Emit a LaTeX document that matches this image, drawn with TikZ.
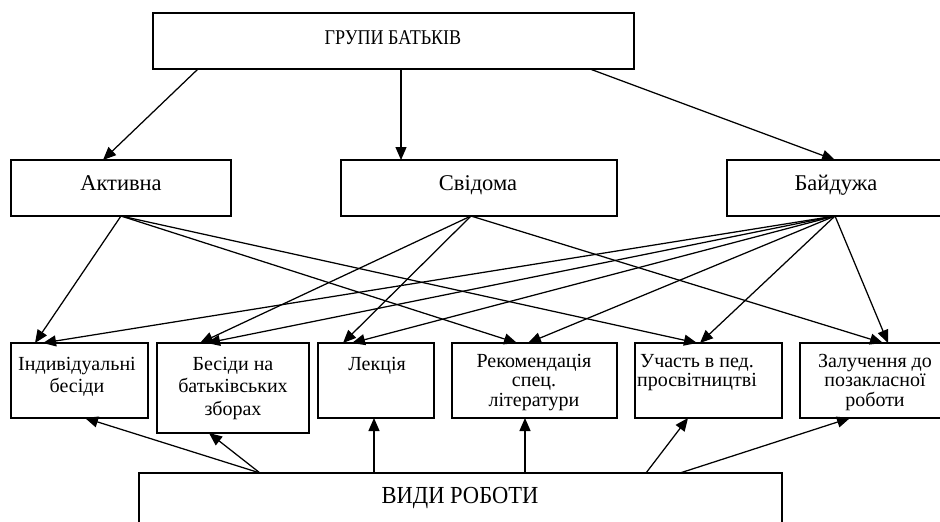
\documentclass[tikz,border=0pt]{standalone}
\usepackage{fontspec}
\setmainfont{Liberation Serif}
\usetikzlibrary{arrows.meta}

\begin{document}
\begin{tikzpicture}[x=1pt,y=-1pt,
box/.style = {draw, line width=1.4pt, inner sep=0pt, outer sep=0pt,
            anchor=north west},
arr/.style = {line width=1.25pt, -{Triangle[length=13pt,width=11pt]}},
lbl/.style = {inner sep=0pt, align=center, anchor=north,
            font=\fontsize{20}{22.5}\selectfont},
lbs/.style = {lbl, font=\fontsize{20}{19.5}\selectfont}  % tighter lines
                ]
    \clip (0,0) rectangle (940,522);
    % boxes: left/top/width/height/name
    \foreach \x/\y/\w/\h/\n in {153/13/481/56/grp,
        11/160/220/56/act, 341/160/276/56/svid, 727/160/216/56/baid,
        11/343/137/75/ind, 157/343/152/90/bes, 318/343/116/75/lek,
        452/343/165/75/rek, 635/343/147/75/uch, 800/343/150/75/zal,
        139/473/643/80/vydy}
        \node[box, minimum width=\w pt, minimum height=\h pt] at (\x,\y) (\n) {};
    % texts
    \node[anchor=base, inner sep=0pt, font=\fontsize{21}{22}\selectfont]
        at (393,44) (tgrp) {\scalebox{0.86}[1]{ГРУПИ БАТЬКІВ}};
    \foreach \x/\v/\t in {121/act/Активна, 478/svid/Свідома, 836/baid/Байдужа}
        \node[anchor=base, inner sep=0pt, font=\fontsize{22.5}{24}\selectfont]
            at (\x,190) (t\v) {\t};
    \node[lbl] at (77,357) (tind) {Індивідуальні\\бесіди};
    \node[lbl] at (233,357) (tbes) {Бесіди на\\батьківських\\зборах};
    \node[lbl] at (377,357) (tlek) {Лекція};
    \node[lbs] at (534,354) (trek) {Рекомендація\\спец.\\літератури};
    \node[lbs] at (697,354) (tuch) {Участь в пед.\\просвітництві};
    \node[lbs] at (875,354) (tzal) {Залучення до\\позакласної\\роботи};
    \node[anchor=base, inner sep=0pt, font=\fontsize{24.5}{26}\selectfont]
        at (460,503) (tvydy) {\scalebox{0.92}[1]{ВИДИ РОБОТИ}};
    % from the top box
    \draw [arr] ([xshift=45pt]grp.south west) -- ([xshift=-18pt]act.north);
    \draw [arr] ([xshift=248pt]grp.south west) -- ([xshift=-78pt]svid.north);
    \draw [arr] ([xshift=437pt]grp.south west) -- (baid.north);
    % groups to kinds of work
    \foreach \a/\s/\b/\t in {act/0/ind/24, act/0/rek/65, act/0/uch/62,
        svid/-8/bes/43, svid/-8/lek/25, svid/-8/zal/83,
        baid/0/ind/32, baid/0/bes/50, baid/0/lek/34,
        baid/0/rek/76, baid/0/uch/65, baid/0/zal/88}
        \draw [arr] ([xshift=\s pt]\a.south) -- ([xshift=\t pt]\b.north west);
    % from the bottom box
    \foreach \s/\b/\t in {121/ind/74, 121/bes/52, 235/lek/56,
        386/rek/73, 507/uch/53, 541/zal/50}
        \draw [arr] ([xshift=\s pt]vydy.north west) -- ([xshift=\t pt]\b.south west);
\end{tikzpicture}
\end{document}
